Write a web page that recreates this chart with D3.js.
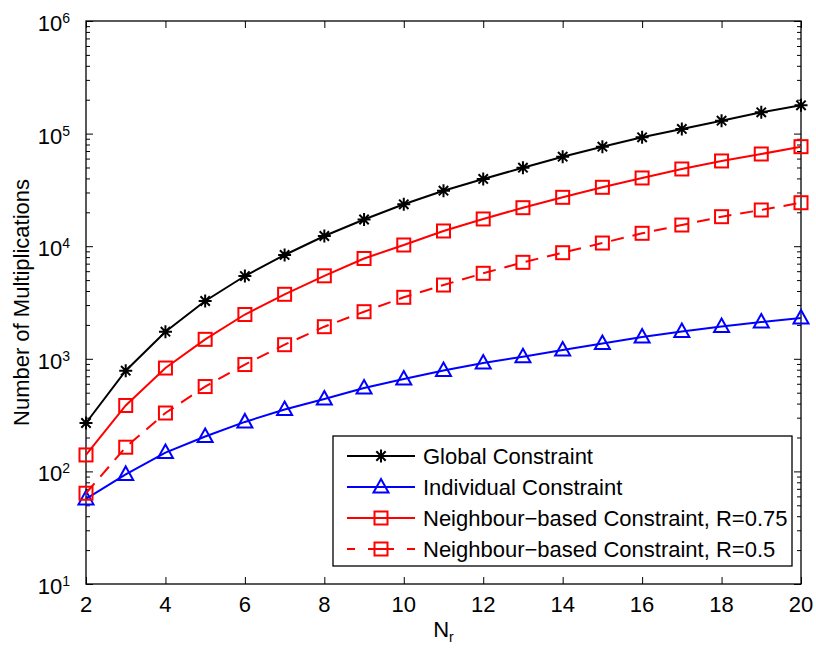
<!DOCTYPE html>
<html>
<head>
<meta charset="utf-8">
<script src="https://cdn.jsdelivr.net/npm/d3@7"></script>
<style>
  html, body { margin: 0; padding: 0; background: #fff; }
  svg { display: block; font-family: "Liberation Sans", Arial, Helvetica, sans-serif; }
</style>
</head>
<body>
<svg id="chart" width="816" height="652"></svg>
<script>
// Number of receivers
const nr = [2, 3, 4, 5, 6, 7, 8, 9, 10, 11, 12, 13, 14, 15, 16, 17, 18, 19, 20];

// Multiplication counts per constraint type
const globalConstraint = [269, 784, 1741, 3260, 5435, 8356, 12320, 17260, 23550, 31120,
  39540, 49800, 62370, 76540, 92700, 109900, 130200, 154600, 178300];
const individualConstraint = [57, 94, 147, 204, 275, 355, 440, 550, 661, 787,
  918, 1044, 1197, 1368, 1562, 1748, 1936, 2122, 2303];
const neighbour075 = [140, 385, 828, 1489, 2473, 3740, 5458, 7780, 10250, 13650,
  17450, 21980, 27170, 33350, 40360, 48490, 57150, 65900, 76540];
const neighbour050 = [64, 164, 330, 567, 889, 1334, 1928, 2620, 3517, 4520,
  5745, 7192, 8753, 10670, 13020, 15420, 18280, 20970, 24330];

const seriesNames = [
  "Global Constraint",
  "Individual Constraint",
  "Neighbour\u2212based Constraint, R=0.75",
  "Neighbour\u2212based Constraint, R=0.5"
];

const xTicks = [2, 4, 6, 8, 10, 12, 14, 16, 18, 20];
const yExponents = [1, 2, 3, 4, 5, 6];

const series = [
  { name: seriesNames[0], values: globalConstraint, color: "#000000", marker: "star", dash: null },
  { name: seriesNames[1], values: individualConstraint, color: "#0000ff", marker: "triangle", dash: null },
  { name: seriesNames[2], values: neighbour075, color: "#ff0000", marker: "square", dash: null },
  { name: seriesNames[3], values: neighbour050, color: "#ff0000", marker: "square", dash: "13,9" }
];

const svg = d3.select("#chart");
const plot = { left: 86, top: 21, right: 801, bottom: 584 };

const x = d3.scaleLinear().domain([2, 20]).range([plot.left, plot.right]);
const y = d3.scaleLog().domain([10, 1e6]).range([plot.bottom, plot.top]);

const FONT = 22;
const LW = 2;

// Minor ticks for log axis
const minorTicks = [];
for (let e = 1; e < 6; e++) {
  for (let m = 2; m <= 9; m++) minorTicks.push(m * Math.pow(10, e));
}
const majorY = yExponents.map(e => Math.pow(10, e));

function styleAxis(g) {
  g.select(".domain").remove();
  g.selectAll(".tick line").attr("stroke", "#000").attr("stroke-width", 1);
  g.selectAll(".tick text").remove();
}

// Left / right axes (ticks point inward)
svg.append("g").attr("transform", `translate(${plot.left},0)`)
  .call(d3.axisLeft(y).tickValues(majorY).tickSize(-7).tickFormat(""))
  .call(styleAxis);
svg.append("g").attr("transform", `translate(${plot.left},0)`)
  .call(d3.axisLeft(y).tickValues(minorTicks).tickSize(-4).tickFormat(""))
  .call(styleAxis);
svg.append("g").attr("transform", `translate(${plot.right},0)`)
  .call(d3.axisRight(y).tickValues(majorY).tickSize(-7).tickFormat(""))
  .call(styleAxis);
svg.append("g").attr("transform", `translate(${plot.right},0)`)
  .call(d3.axisRight(y).tickValues(minorTicks).tickSize(-4).tickFormat(""))
  .call(styleAxis);

// Bottom / top axes
svg.append("g").attr("transform", `translate(0,${plot.bottom})`)
  .call(d3.axisBottom(x).tickValues(xTicks).tickSize(-7).tickFormat(""))
  .call(styleAxis);
svg.append("g").attr("transform", `translate(0,${plot.top})`)
  .call(d3.axisTop(x).tickValues(xTicks).tickSize(-7).tickFormat(""))
  .call(styleAxis);

// Plot box
svg.append("rect")
  .attr("x", plot.left).attr("y", plot.top)
  .attr("width", plot.right - plot.left).attr("height", plot.bottom - plot.top)
  .attr("fill", "none").attr("stroke", "#000").attr("stroke-width", 1.3);

// Y tick labels: 10 with superscript exponent
const yLab = svg.append("g").selectAll("text").data(yExponents).join("text")
  .attr("x", plot.left - 16)
  .attr("y", e => y(Math.pow(10, e)) + 10)
  .attr("text-anchor", "end")
  .attr("font-size", FONT)
  .attr("fill", "#000");
yLab.append("tspan").text("10");
yLab.append("tspan")
  .attr("font-size", 14)
  .attr("dy", -8)
  .text(e => e);

// X tick labels
svg.append("g").selectAll("text").data(xTicks).join("text")
  .attr("x", d => x(d))
  .attr("y", plot.bottom + 28)
  .attr("text-anchor", "middle")
  .attr("font-size", FONT)
  .attr("fill", "#000")
  .text(d => d);

// Axis titles
const xt = svg.append("text")
  .attr("x", (plot.left + plot.right) / 2)
  .attr("y", 637)
  .attr("text-anchor", "middle")
  .attr("font-size", FONT)
  .attr("fill", "#000");
xt.append("tspan").text("N");
xt.append("tspan").attr("font-size", 14).attr("dy", 5).text("r");

svg.append("text")
  .attr("transform", `translate(29,${(plot.top + plot.bottom) / 2}) rotate(-90)`)
  .attr("text-anchor", "middle")
  .attr("font-size", FONT)
  .attr("fill", "#000")
  .text("Number of Multiplications");

// Marker drawing
function drawMarker(g, type, color) {
  if (type === "star") {
    const r = 6.5, d = r * 0.72;
    g.append("path")
      .attr("d", `M${-r},0L${r},0M0,${-r}L0,${r}M${-d},${-d}L${d},${d}M${-d},${d}L${d},${-d}`)
      .attr("stroke", color).attr("stroke-width", LW).attr("fill", "none");
  } else if (type === "triangle") {
    g.append("path")
      .attr("d", "M0,-8L7.5,5.5L-7.5,5.5Z")
      .attr("stroke", color).attr("stroke-width", LW).attr("fill", "none");
  } else if (type === "square") {
    g.append("rect")
      .attr("x", -6.5).attr("y", -6.5).attr("width", 13).attr("height", 13)
      .attr("stroke", color).attr("stroke-width", LW).attr("fill", "none");
  }
}

const line = d3.line()
  .x((d, i) => x(nr[i]))
  .y(d => y(d));

const seriesG = svg.append("g");
series.forEach(s => {
  seriesG.append("path")
    .datum(s.values)
    .attr("d", line)
    .attr("fill", "none")
    .attr("stroke", s.color)
    .attr("stroke-width", LW)
    .attr("stroke-dasharray", s.dash);
  seriesG.append("g").selectAll("g").data(s.values).join("g")
    .attr("transform", (d, i) => `translate(${x(nr[i])},${y(d)})`)
    .each(function () { drawMarker(d3.select(this), s.marker, s.color); });
});

// Legend
const legend = { x: 333, y: 436, w: 459, h: 130 };
svg.append("rect")
  .attr("x", legend.x).attr("y", legend.y)
  .attr("width", legend.w).attr("height", legend.h)
  .attr("fill", "#fff").attr("stroke", "#000").attr("stroke-width", 1.3);

const rowY = [456, 487, 518, 549];
series.forEach((s, i) => {
  const g = svg.append("g");
  g.append("line")
    .attr("x1", 347).attr("x2", 415)
    .attr("y1", rowY[i]).attr("y2", rowY[i])
    .attr("stroke", s.color).attr("stroke-width", LW)
    .attr("stroke-dasharray", s.dash ? "8,13,26,13,8" : null);
  const m = g.append("g").attr("transform", `translate(381,${rowY[i]})`);
  drawMarker(m, s.marker, s.color);
  g.append("text")
    .attr("x", 423).attr("y", rowY[i] + 8)
    .attr("font-size", FONT)
    .attr("fill", "#000")
    .text(s.name);
});
</script>
</body>
</html>
